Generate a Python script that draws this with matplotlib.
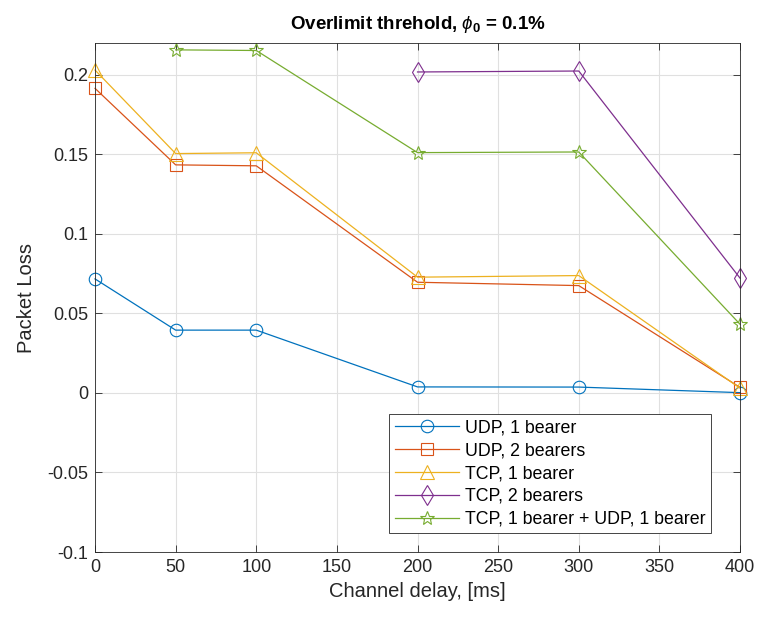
import matplotlib.pyplot as plt

plt.rcParams['font.family'] = ['Liberation Sans', 'DejaVu Sans']
plt.rcParams['mathtext.fontset'] = 'custom'
plt.rcParams['mathtext.rm'] = 'Liberation Sans'
plt.rcParams['mathtext.it'] = 'Liberation Sans:italic'
plt.rcParams['mathtext.bf'] = 'Liberation Sans:bold'

# Data
delay = [0, 50, 100, 200, 300, 400]
udp_1 = [0.0717, 0.0395, 0.0395, 0.0038, 0.0037, 0.0002]
udp_2 = [0.1915, 0.1434, 0.1428, 0.0696, 0.0675, 0.0035]
tcp_1 = [0.2030, 0.1505, 0.1510, 0.0728, 0.0738, 0.0030]
delay_tcp_2 = [200, 300, 400]
tcp_2 = [0.2018, 0.2024, 0.0722]
delay_mix = [50, 100, 200, 300, 400]
tcp_udp = [0.2157, 0.2153, 0.1511, 0.1515, 0.0432]

xticks = [0, 50, 100, 150, 200, 250, 300, 350, 400]
yticks = [-0.1, -0.05, 0, 0.05, 0.1, 0.15, 0.2]
ytick_labels = ['-0.1', '-0.05', '0', '0.05', '0.1', '0.15', '0.2']

fig = plt.figure(figsize=(7.59, 6.19), dpi=100)
ax = fig.add_axes([0.1252, 0.1082, 0.8498, 0.8223])

style = dict(linewidth=0.9, markerfacecolor='none', markeredgewidth=0.8, clip_on=False)
ax.plot(delay, udp_1, marker='o', markersize=9, color='#0072BD', label='UDP, 1 bearer', **style)
ax.plot(delay, udp_2, marker='s', markersize=8, color='#D95319', label='UDP, 2 bearers', **style)
ax.plot(delay, tcp_1, marker='^', markersize=10, color='#EDB120', label='TCP, 1 bearer', **style)
ax.plot(delay_tcp_2, tcp_2, marker='d', markersize=10.5, color='#7E2F8E', label='TCP, 2 bearers', **style)
ax.plot(delay_mix, tcp_udp, marker='*', markersize=10, color='#77AC30',
        label='TCP, 1 bearer + UDP, 1 bearer', **style)

ax.set_xlim(0, 400)
ax.set_ylim(-0.1, 0.22)
ax.set_xticks(xticks)
ax.set_yticks(yticks)
ax.set_yticklabels(ytick_labels)
ax.tick_params(direction='in', top=True, right=True, labelsize=13, colors='#262626',
               length=5, width=0.6, pad=5)
for s in ax.spines.values():
    s.set_color('#262626')
    s.set_linewidth(0.6)
ax.grid(True, color='#e0e0e0', linewidth=0.8)
ax.set_axisbelow(True)

ax.set_xlabel('Channel delay, [ms]', fontsize=14.5, color='#262626', labelpad=4)
ax.set_ylabel('Packet Loss', fontsize=14.5, color='#262626', labelpad=8)
ax.set_title(r'Overlimit threhold, $\phi_\mathbf{0}$ = 0.1%', fontsize=13.5, fontweight='bold', pad=10)

leg = ax.legend(loc='lower right', bbox_to_anchor=(0.955, 0.037), fontsize=12.8, fancybox=False,
                framealpha=1, edgecolor='#262626', borderpad=0.3, labelspacing=0.33,
                handlelength=3.6, handletextpad=0.35, borderaxespad=0)
leg.get_frame().set_linewidth(0.6)

fig.savefig('out.png', dpi=100)
